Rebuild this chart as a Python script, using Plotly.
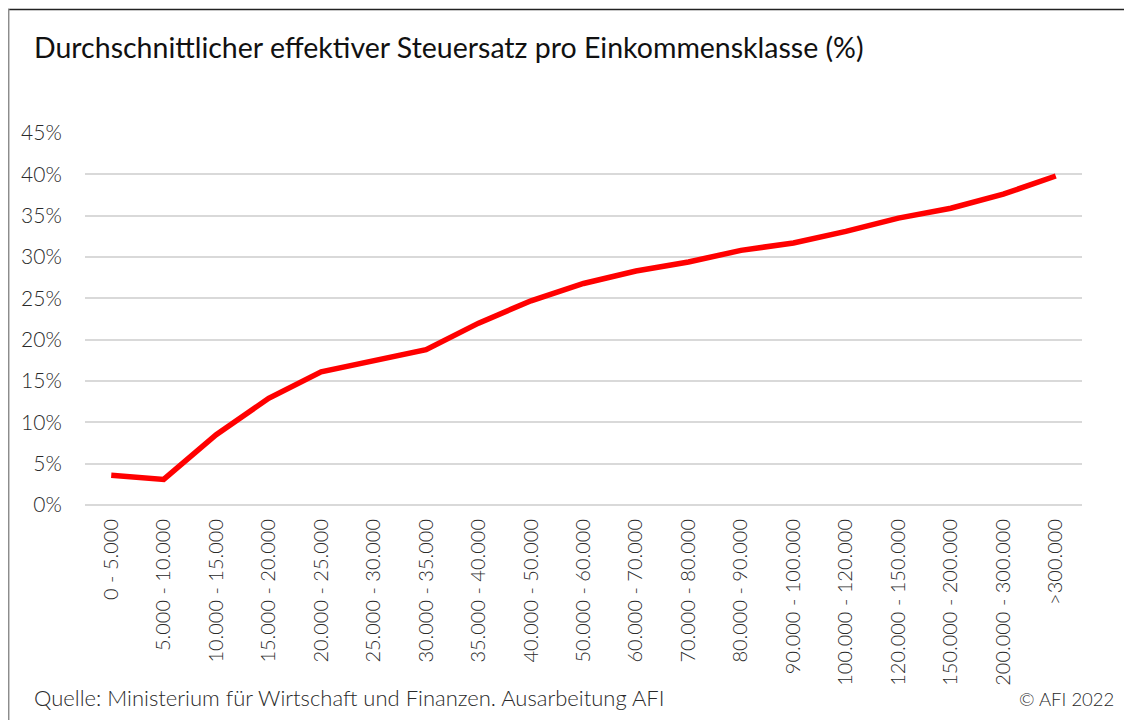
import plotly.graph_objects as go

categories = ["0 - 5.000", "5.000 - 10.000", "10.000 - 15.000", "15.000 - 20.000",
              "20.000 - 25.000", "25.000 - 30.000", "30.000 - 35.000", "35.000 - 40.000",
              "40.000 - 50.000", "50.000 - 60.000", "60.000 - 70.000", "70.000 - 80.000",
              "80.000 - 90.000", "90.000 - 100.000", "100.000 - 120.000", "120.000 - 150.000",
              "150.000 - 200.000", "200.000 - 300.000", ">300.000"]
steuersatz = [3.6, 3.1, 8.5, 12.9, 16.1, 17.4, 18.8, 22.0, 24.7, 26.8, 28.3, 29.4,
              30.8, 31.7, 33.1, 34.7, 35.9, 37.6, 39.8]
y_ticks = [0, 5, 10, 15, 20, 25, 30, 35, 40, 45]
y_ticklabels = [f"{v}%" for v in y_ticks]

title_text = "Durchschnittlicher effektiver Steuersatz pro Einkommensklasse (%)"
source_text = "Quelle: Ministerium für Wirtschaft und Finanzen. Ausarbeitung AFI"
copy_text = "© AFI 2022"

FONT = "Lato"
TXT = "#2a2a2a"
OFF = 8  # page body margin
W, H = 1132 - OFF, 720 - OFF
L, R, T, B = 77, 50, 125, 215
pw, ph = W - L - R, H - T - B

def px(x):  # screen x -> paper
    return (x - OFF - L) / pw

def py(y):  # screen y -> paper
    return (H - B - (y - OFF)) / ph

fig = go.Figure()
fig.add_trace(go.Scatter(
    x=categories, y=steuersatz, mode="lines",
    line=dict(color="#FF0000", width=5.5),
    hoverinfo="x+y", showlegend=False,
))

fig.update_layout(
    width=W, height=H,
    margin=dict(l=L, r=R, t=T, b=B),
    paper_bgcolor="white", plot_bgcolor="white",
    font=dict(family=FONT, color=TXT),
    xaxis=dict(
        type="category", tickangle=-90, showgrid=False, showline=False,
        tickfont=dict(size=20, color=TXT, family=FONT, weight=300),
        ticks="outside", ticklen=5, tickcolor="rgba(0,0,0,0)",
        range=[-0.5, len(categories) - 0.5],
    ),
    yaxis=dict(
        range=[0, 45], tickvals=y_ticks, ticktext=y_ticklabels,
        showgrid=True, gridcolor="#D9D9D9", gridwidth=1.5,
        zeroline=True, zerolinecolor="#D9D9D9", zerolinewidth=1.5,
        showline=False,
        tickfont=dict(size=21, color=TXT, family=FONT, weight=300),
        ticks="outside", ticklen=18, tickcolor="rgba(0,0,0,0)",
    ),
    annotations=[
        dict(text=title_text, xref="paper", yref="paper", x=px(32), y=py(47),
             xanchor="left", yanchor="middle", showarrow=False,
             font=dict(size=28.5, color="#111111", family=FONT)),
        dict(text=source_text, xref="paper", yref="paper", x=px(32), y=py(697),
             xanchor="left", yanchor="middle", showarrow=False,
             font=dict(size=22, color=TXT, family=FONT, weight=300)),
        dict(text=copy_text, xref="paper", yref="paper", x=px(1116), y=py(699),
             xanchor="right", yanchor="middle", showarrow=False,
             font=dict(size=18.5, color=TXT, family=FONT, weight=300)),
    ],
    shapes=[
        dict(type="line", xref="paper", yref="paper", x0=px(8), x1=px(1140),
             y0=py(9.5), y1=py(9.5), line=dict(color="#222222", width=1.5)),
        dict(type="line", xref="paper", yref="paper", x0=px(8.7), x1=px(8.7),
             y0=py(9), y1=py(740), line=dict(color="#8c8c8c", width=1.5)),
    ],
)

fig.write_html("out.html")
